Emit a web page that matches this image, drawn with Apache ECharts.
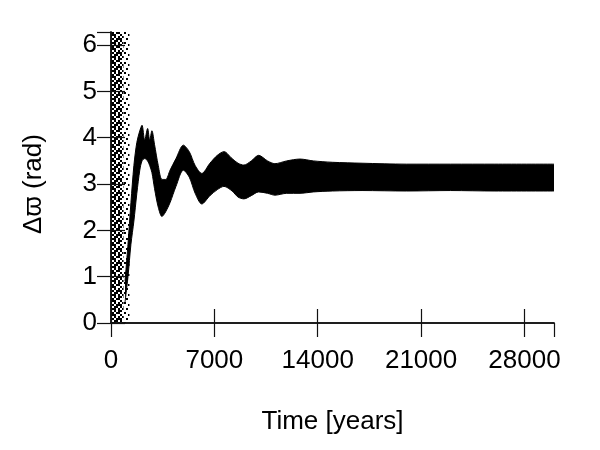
<!DOCTYPE html>
<html>
<head>
<meta charset="utf-8">
<script src="https://cdn.jsdelivr.net/npm/echarts@6/dist/echarts.min.js"></script>
<style>
  html, body { margin: 0; padding: 0; background: #fff; }
  #chart { width: 600px; height: 450px; }
</style>
</head>
<body>
<div id="chart"></div>
<script>
// libration band envelope
const bandTime = [950, 1150, 1350, 1550, 1750, 1950, 2100, 2280, 2480, 2620, 2770, 2950, 3200, 3450, 3700, 4000, 4400, 4900, 5300, 5700, 6150, 6700, 7200, 7650, 8200, 8600, 9000, 9500, 10000, 10600, 11100, 11900, 12800, 13700, 15000, 17000, 20000, 23000, 26000, 30000];
const bandLow = [0.45, 1.0, 1.7, 2.2, 2.8, 3.3, 3.5, 3.55, 3.5, 3.4, 3.25, 2.9, 2.5, 2.3, 2.4, 2.6, 2.95, 3.3, 3.15, 2.8, 2.57, 2.75, 2.88, 2.95, 2.85, 2.72, 2.68, 2.75, 2.83, 2.8, 2.76, 2.8, 2.8, 2.83, 2.85, 2.86, 2.85, 2.86, 2.85, 2.85];
const bandHigh = [0.9, 1.7, 2.6, 3.4, 3.9, 4.15, 4.27, 3.95, 4.2, 3.95, 4.15, 3.85, 3.4, 3.1, 3.1, 3.3, 3.55, 3.84, 3.7, 3.4, 3.23, 3.45, 3.62, 3.7, 3.55, 3.45, 3.41, 3.5, 3.62, 3.5, 3.44, 3.5, 3.54, 3.5, 3.47, 3.45, 3.43, 3.43, 3.43, 3.43];

// circulating phase at the start: points spread over the full 0..2pi range
const circDenseTime = [0, 850];
const circSparseTime = [850, 1250];
const twoPi = 2 * Math.PI;

const xTicks = [0, 7000, 14000, 21000, 28000];
const yTicks = [0, 1, 2, 3, 4, 5, 6];

// speckle textures standing in for the scattered points (2px dots)
function speckle(mask) {
  const n = mask.length;
  const c = document.createElement("canvas");
  c.width = n * 2;
  c.height = n * 2;
  const ctx = c.getContext("2d");
  ctx.fillStyle = "#000";
  mask.forEach((row, y) => {
    for (let x = 0; x < n; x++) if (row[x] === "#") ctx.fillRect(x * 2, y * 2, 2, 2);
  });
  return { image: c, repeat: "repeat" };
}
const densePattern = speckle([
  "##.#.##",
  ".#.##.#",
  "#.##..#",
  "##..#.#",
  ".#.#.##",
  "#.###..",
  ".##.#.#",
]);
const sparsePattern = speckle([
  "#....",
  "..#..",
  "....#",
  ".#...",
  "...#.",
]);

const chart = echarts.init(document.getElementById("chart"));

const axisFont = { fontFamily: "Liberation Sans, Arial, DejaVu Sans", fontSize: 26, color: "#000" };
const frame = { show: true, lineStyle: { color: "#111", width: 1.5 } };
const ticks = { show: true, inside: true, length: 14, lineStyle: { color: "#111", width: 1.2 } };

chart.setOption({
  animation: false,
  grid: { left: 111, right: 46, top: 32, bottom: 127 },
  xAxis: [
    {
      type: "value",
      min: 0,
      max: 30000,
      interval: 7000,
      axisLine: frame,
      axisTick: ticks,
      splitLine: { show: false },
      axisLabel: Object.assign({ margin: 25, showMaxLabel: false,
        formatter: (v) => (xTicks.includes(v) ? String(v) : "") }, axisFont),
      name: "Time [years]",
      nameLocation: "middle",
      nameGap: 86,
      nameTextStyle: axisFont,
      z: 10,
    },
    {
      type: "value",
      position: "top",
      min: 0,
      max: 30000,
      interval: 7000,
      axisLine: frame,
      axisTick: ticks,
      axisLabel: { show: false },
      splitLine: { show: false },
      z: 10,
    },
  ],
  yAxis: [
    {
      type: "value",
      min: 0,
      max: twoPi,
      interval: 1,
      axisLine: frame,
      axisTick: ticks,
      splitLine: { show: false },
      axisLabel: Object.assign({ margin: 14, showMaxLabel: false,
        formatter: (v) => (yTicks.includes(v) ? String(v) : "") }, axisFont),
      z: 10,
    },
    {
      type: "value",
      position: "right",
      min: 0,
      max: twoPi,
      interval: 1,
      axisLine: frame,
      axisTick: ticks,
      axisLabel: { show: false },
      splitLine: { show: false },
      z: 10,
    },
  ],
  graphic: [
    {
      type: "text",
      x: 34,
      y: 184,
      rotation: Math.PI / 2,
      style: { text: "\u0394\u03D6 (rad)", align: "center", verticalAlign: "middle",
        fill: "#000", font: "26px Liberation Sans, Arial, DejaVu Sans" },
    },
  ],
  series: [
    {
      // upper edge of the band, filled black down to the axis
      type: "line",
      symbol: "none",
      smooth: 0.3,
      lineStyle: { color: "#000", width: 1 },
      areaStyle: { color: "#000", opacity: 1, origin: "start" },
      data: bandTime.map((t, i) => [t, bandHigh[i]]),
      z: 2,
    },
    {
      // lower edge of the band, clears everything below it
      type: "line",
      symbol: "none",
      smooth: 0.3,
      lineStyle: { color: "#000", width: 1 },
      areaStyle: { color: "#fff", opacity: 1, origin: "start" },
      data: bandTime.map((t, i) => [t, bandLow[i]]),
      z: 2.5,
    },
    {
      type: "line",
      symbol: "none",
      lineStyle: { opacity: 0 },
      areaStyle: { color: densePattern, opacity: 1, origin: "start" },
      data: circDenseTime.map((t) => [t, twoPi]),
      z: 3,
    },
    {
      type: "line",
      symbol: "none",
      lineStyle: { opacity: 0 },
      areaStyle: { color: sparsePattern, opacity: 1, origin: "start" },
      data: circSparseTime.map((t) => [t, twoPi]),
      z: 3,
    },
  ],
});

window.addEventListener("resize", () => chart.resize());
</script>
</body>
</html>
